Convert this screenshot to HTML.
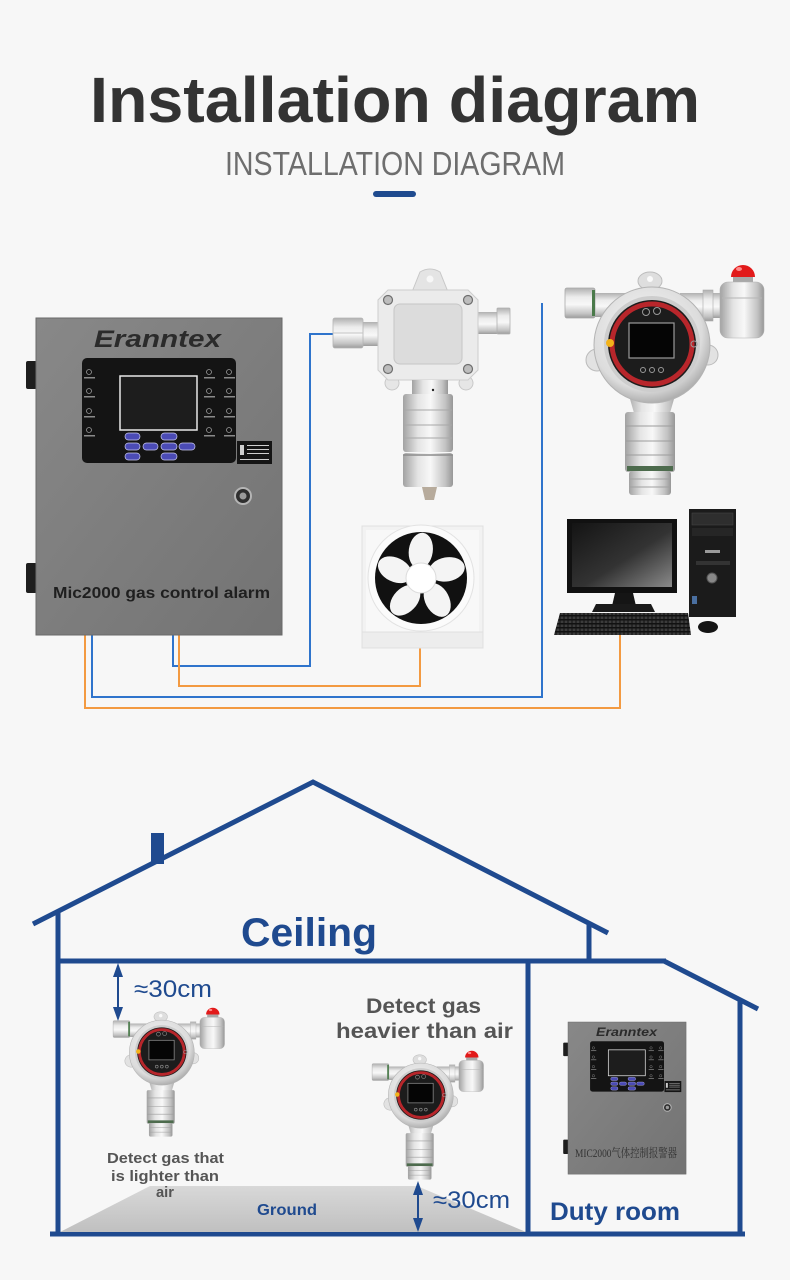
<!DOCTYPE html>
<html><head><meta charset="utf-8"><style>html,body{margin:0;padding:0;background:#f7f7f7}svg{display:block}</style></head>
<body>
<svg width="790" height="1280" viewBox="0 0 790 1280" xmlns="http://www.w3.org/2000/svg" font-family="'Liberation Sans', sans-serif">
<defs>
 <linearGradient id="metalH" x1="0" y1="0" x2="1" y2="0">
  <stop offset="0" stop-color="#a2a2a2"/><stop offset="0.3" stop-color="#e4e4e4"/><stop offset="0.55" stop-color="#f8f8f8"/><stop offset="0.85" stop-color="#c2c2c2"/><stop offset="1" stop-color="#979797"/>
 </linearGradient>
 <linearGradient id="metalV" x1="0" y1="0" x2="0" y2="1">
  <stop offset="0" stop-color="#b0b0b0"/><stop offset="0.3" stop-color="#ececec"/><stop offset="0.55" stop-color="#f8f8f8"/><stop offset="0.85" stop-color="#c4c4c4"/><stop offset="1" stop-color="#9c9c9c"/>
 </linearGradient>
 <radialGradient id="bodyR" cx="0.45" cy="0.4" r="0.6">
  <stop offset="0" stop-color="#f8f8f8"/><stop offset="0.8" stop-color="#dcdcdc"/><stop offset="1" stop-color="#b0b0b0"/>
 </radialGradient>
 <linearGradient id="boxG" x1="0" y1="0" x2="1" y2="1">
  <stop offset="0" stop-color="#888888"/><stop offset="1" stop-color="#737373"/>
 </linearGradient>
 <linearGradient id="scr" x1="0" y1="0" x2="1" y2="1">
  <stop offset="0" stop-color="#141414"/><stop offset="0.55" stop-color="#333"/><stop offset="1" stop-color="#8a8a8a"/>
 </linearGradient>
 <linearGradient id="gnd" x1="0" y1="0" x2="0" y2="1">
  <stop offset="0" stop-color="#d8d8d8"/><stop offset="1" stop-color="#c0c0c0"/>
 </linearGradient>
 <pattern id="keys" width="4" height="4" patternUnits="userSpaceOnUse">
  <rect width="4" height="4" fill="#111"/><rect x="0.5" y="0.5" width="3" height="2.5" fill="#3c3c3c"/>
 </pattern>

 <g id="det2">
  <ellipse cx="650" cy="281" rx="12" ry="9" fill="#dedede" stroke="#bdbdbd"/>
  <circle cx="650" cy="279" r="3" fill="#fafafa"/>
  <rect x="590" y="293" width="40" height="24" fill="url(#metalV)"/>
  <rect x="565" y="288" width="30" height="30" rx="2" fill="url(#metalV)" stroke="#a8a8a8" stroke-width="0.8"/>
  <rect x="592" y="290" width="3" height="26" fill="#4a7a4a"/>
  <rect x="680" y="293" width="44" height="25" fill="url(#metalV)"/>
  <rect x="703" y="290" width="10" height="31" fill="url(#metalV)" stroke="#aaa" stroke-width="0.6"/>
  <rect x="733" y="274" width="20" height="10" fill="#a8a8a8"/>
  <path d="M731,277 a12,12 0 0 1 24,0 z" fill="#e21a1a"/>
  <ellipse cx="739" cy="269" rx="3" ry="2" fill="#ff8a8a"/>
  <rect x="720" y="282" width="44" height="56" rx="8" fill="url(#metalH)" stroke="#b0b0b0" stroke-width="0.6"/>
  <line x1="722" y1="298" x2="762" y2="298" stroke="#b5b5b5"/>
  <circle cx="597" cy="360" r="11" fill="#e2e2e2" stroke="#bbb"/>
  <circle cx="708" cy="355" r="10" fill="#e2e2e2" stroke="#bbb"/>
  <path d="M626,385 L678,385 L668,420 L636,420 Z" fill="url(#metalH)"/>
  <circle cx="652" cy="345" r="58" fill="url(#bodyR)" stroke="#b3b3b3"/>
  <circle cx="652" cy="344" r="48" fill="#cdcdcd"/>
  <circle cx="652" cy="344" r="44" fill="#1c1c1c"/>
  <circle cx="652" cy="344" r="40" fill="none" stroke="#b8262b" stroke-width="5"/>
  <rect x="629" y="323" width="45" height="35" fill="#050505" stroke="#9a9a9a" stroke-width="1.2"/>
  <circle cx="610" cy="343" r="4" fill="#f3b21a"/>
  <circle cx="646" cy="312" r="3.5" fill="none" stroke="#999"/>
  <circle cx="657" cy="311" r="3.5" fill="none" stroke="#999"/>
  <circle cx="694" cy="344" r="3" fill="none" stroke="#999"/>
  <circle cx="643" cy="370" r="2.5" fill="none" stroke="#999"/>
  <circle cx="652" cy="370" r="2.5" fill="none" stroke="#999"/>
  <circle cx="661" cy="370" r="2.5" fill="none" stroke="#999"/>
  <rect x="625" y="412" width="50" height="60" rx="3" fill="url(#metalH)"/>
  <line x1="626" y1="426" x2="674" y2="426" stroke="#9c9c9c"/>
  <line x1="626" y1="441" x2="674" y2="441" stroke="#9c9c9c"/>
  <line x1="626" y1="455" x2="674" y2="455" stroke="#9c9c9c"/>
  <rect x="627" y="466" width="46" height="5" fill="#4d6b4d"/>
  <rect x="629" y="471" width="42" height="24" rx="3" fill="url(#metalH)"/>
  <line x1="630" y1="479" x2="670" y2="479" stroke="#a0a0a0"/>
  <line x1="630" y1="487" x2="670" y2="487" stroke="#a0a0a0"/>
 </g>

 <g id="cbox">
  <rect x="26" y="361" width="11" height="28" rx="2" fill="#1e1e1e"/>
  <rect x="26" y="563" width="11" height="30" rx="2" fill="#1e1e1e"/>
  <rect x="36" y="318" width="246" height="317" fill="url(#boxG)" stroke="#6a6a6a" stroke-width="1"/>
  <rect x="82" y="358" width="154" height="105" rx="5" fill="#141414"/>
  <rect x="120" y="376" width="77" height="54" fill="#1d1d1d" stroke="#e8e8e8" stroke-width="1.5"/>
  <g fill="#4b4bb5" stroke="#c9c9f0" stroke-width="0.7">
   <rect x="125" y="433" width="15" height="7" rx="3.5"/>
   <rect x="161" y="433" width="16" height="7" rx="3.5"/>
   <rect x="125" y="443" width="15" height="7" rx="3.5"/>
   <rect x="143" y="443" width="15" height="7" rx="3.5"/>
   <rect x="161" y="443" width="16" height="7" rx="3.5"/>
   <rect x="179" y="443" width="16" height="7" rx="3.5"/>
   <rect x="125" y="453" width="15" height="7" rx="3.5"/>
   <rect x="161" y="453" width="16" height="7" rx="3.5"/>
  </g>
  <g fill="none" stroke="#9a9a9a" stroke-width="0.8">
   <circle cx="89" cy="372" r="2.5"/><circle cx="89" cy="391" r="2.5"/><circle cx="89" cy="411" r="2.5"/><circle cx="89" cy="430" r="2.5"/>
   <circle cx="209" cy="372" r="2.5"/><circle cx="209" cy="391" r="2.5"/><circle cx="209" cy="411" r="2.5"/><circle cx="209" cy="430" r="2.5"/>
   <circle cx="229" cy="372" r="2.5"/><circle cx="229" cy="391" r="2.5"/><circle cx="229" cy="411" r="2.5"/><circle cx="229" cy="430" r="2.5"/>
  </g>
  <g fill="#8a8a8a">
   <rect x="84" y="377" width="11" height="1.5"/><rect x="84" y="396" width="11" height="1.5"/><rect x="84" y="416" width="11" height="1.5"/><rect x="84" y="435" width="11" height="1.5"/>
   <rect x="204" y="377" width="11" height="1.5"/><rect x="204" y="396" width="11" height="1.5"/><rect x="204" y="416" width="11" height="1.5"/><rect x="204" y="435" width="11" height="1.5"/>
   <rect x="224" y="377" width="11" height="1.5"/><rect x="224" y="396" width="11" height="1.5"/><rect x="224" y="416" width="11" height="1.5"/><rect x="224" y="435" width="11" height="1.5"/>
  </g>
  <rect x="237" y="441" width="35" height="23" fill="#151515"/>
  <g fill="#cfcfcf">
   <rect x="247" y="445" width="22" height="1"/><rect x="247" y="449" width="22" height="1"/><rect x="247" y="453" width="22" height="1"/><rect x="240" y="459" width="29" height="1"/>
   <rect x="240" y="445" width="4" height="10"/>
  </g>
  <circle cx="243" cy="496" r="8" fill="#2e2e2e" stroke="#b5b5b5" stroke-width="2"/>
  <circle cx="243" cy="496" r="3.5" fill="#9a9a9a"/>
 </g>
</defs>

<rect width="790" height="1280" fill="#f7f7f7"/>

<!-- Title -->
<text x="90" y="122" font-size="64" font-weight="bold" fill="#333333" textLength="610" lengthAdjust="spacingAndGlyphs">Installation diagram</text>
<text x="225" y="175" font-size="33" fill="#6e6e6e" textLength="340" lengthAdjust="spacingAndGlyphs">INSTALLATION DIAGRAM</text>
<rect x="373" y="191" width="43" height="6" rx="3" fill="#1f4b8f"/>

<!-- Wires -->
<g fill="none" stroke-width="2" stroke-linejoin="miter">
 <polyline points="92,634 92,697 542,697 542,303" stroke="#2f74cc"/>
 <polyline points="173,634 173,666 310,666 310,334 334,334" stroke="#2f74cc"/>
 <polyline points="85,634 85,708 620,708 620,634" stroke="#f39a41"/>
 <polyline points="179,634 179,686 420,686 420,646" stroke="#f39a41"/>
</g>

<!-- Control box -->
<use href="#cbox"/>
<text x="94" y="347" font-size="24" font-weight="bold" font-style="italic" fill="#2b2b2b" textLength="127" lengthAdjust="spacingAndGlyphs">Eranntex</text>
<text x="53" y="598" font-size="16" font-weight="bold" fill="#1f1f1f" textLength="217" lengthAdjust="spacingAndGlyphs">Mic2000 gas control alarm</text>

<!-- Detector 1 -->
<g>
 <path d="M412,292 L420,272 Q430,266 440,272 L448,292 Z" fill="#e4e4e4" stroke="#c8c8c8"/>
 <circle cx="430" cy="279" r="3.5" fill="#f7f7f7"/>
 <rect x="360" y="322" width="22" height="24" fill="url(#metalV)"/>
 <rect x="333" y="318" width="30" height="30" rx="2" fill="url(#metalV)" stroke="#b5b5b5" stroke-width="0.8"/>
 <line x1="333" y1="333" x2="363" y2="333" stroke="#c4c4c4"/>
 <rect x="474" y="312" width="26" height="22" fill="url(#metalV)"/>
 <rect x="497" y="308" width="13" height="26" rx="1" fill="url(#metalV)" stroke="#b0b0b0" stroke-width="0.8"/>
 <circle cx="392" cy="383" r="7" fill="#e6e6e6" stroke="#c8c8c8"/>
 <circle cx="466" cy="383" r="7" fill="#e6e6e6" stroke="#c8c8c8"/>
 <path d="M388,290 L468,290 L478,300 L478,370 L468,380 L388,380 L378,370 L378,300 Z" fill="#ebebeb" stroke="#cdcdcd"/>
 <rect x="394" y="304" width="68" height="60" rx="6" fill="#dcdcdc" stroke="#c6c6c6"/>
 <g fill="#bdbdbd" stroke="#6e6e6e" stroke-width="1.2">
  <circle cx="388" cy="300" r="4.5"/><circle cx="468" cy="300" r="4.5"/><circle cx="388" cy="369" r="4.5"/><circle cx="468" cy="369" r="4.5"/>
 </g>
 <rect x="412" y="380" width="36" height="16" fill="url(#metalH)"/>
 <circle cx="433" cy="390" r="1.2" fill="#222"/>
 <rect x="403" y="394" width="50" height="58" rx="3" fill="url(#metalH)"/>
 <line x1="404" y1="410" x2="452" y2="410" stroke="#a8a8a8"/>
 <line x1="404" y1="425" x2="452" y2="425" stroke="#a8a8a8"/>
 <line x1="404" y1="438" x2="452" y2="438" stroke="#a8a8a8"/>
 <rect x="403" y="453" width="50" height="34" rx="3" fill="url(#metalH)"/>
 <line x1="403" y1="455" x2="453" y2="455" stroke="#8c8c8c" stroke-width="1.5"/>
 <path d="M422,487 L437,487 L434,500 L425,500 Z" fill="#b7ab9c"/>
</g>

<!-- Detector 2 big -->
<use href="#det2"/>

<!-- Fan -->
<g>
 <rect x="362" y="526" width="121" height="122" fill="#f2f2f2" stroke="#e0e0e0"/>
 <rect x="366" y="530" width="113" height="102" fill="#f8f8f8"/>
 <rect x="362" y="632" width="121" height="16" fill="#ededed" stroke="#e0e0e0"/>
 <circle cx="421" cy="578" r="53" fill="#fbfbfb" stroke="#e2e2e2"/>
 <circle cx="421" cy="578" r="46" fill="#111"/>
 <g transform="translate(421,578)" fill="#f4f4f4">
  <ellipse cx="27" cy="-4" rx="18" ry="12" transform="rotate(-10)"/>
  <ellipse cx="27" cy="-4" rx="18" ry="12" transform="rotate(62)"/>
  <ellipse cx="27" cy="-4" rx="18" ry="12" transform="rotate(134)"/>
  <ellipse cx="27" cy="-4" rx="18" ry="12" transform="rotate(206)"/>
  <ellipse cx="27" cy="-4" rx="18" ry="12" transform="rotate(278)"/>
  <circle r="15" fill="#ffffff" stroke="#dcdcdc"/>
 </g>
</g>

<!-- Computer -->
<g>
 <rect x="567" y="519" width="110" height="74" fill="#111"/>
 <rect x="572" y="523" width="100" height="64" fill="url(#scr)"/>
 <path d="M615,593 L633,593 L636,606 L612,606 Z" fill="#151515"/>
 <path d="M596,604 L651,604 L655,612 L592,612 Z" fill="#1a1a1a"/>
 <rect x="689" y="509" width="47" height="108" fill="#1b1b1b"/>
 <rect x="692" y="513" width="41" height="12" fill="#2e2e2e" stroke="#444" stroke-width="0.6"/>
 <rect x="692" y="528" width="41" height="8" fill="#262626"/>
 <rect x="705" y="550" width="15" height="3" fill="#9a9a9a"/>
 <rect x="696" y="561" width="34" height="4" fill="#333"/>
 <circle cx="712" cy="578" r="5" fill="#888" stroke="#555"/>
 <rect x="692" y="596" width="5" height="8" fill="#4a6fa0"/>
 <path d="M560,613 L688,613 L691,635 L554,635 Z" fill="url(#keys)"/>
 <ellipse cx="708" cy="627" rx="10" ry="6" fill="#141414"/>
</g>

<!-- House -->
<g fill="none" stroke="#1f4a8f" stroke-width="5" stroke-linecap="butt">
 <polyline points="33,924 313,782 608,933"/>
 <line x1="58" y1="911" x2="58" y2="1236"/>
 <line x1="589" y1="922" x2="589" y2="963"/>
 <line x1="56" y1="961" x2="666" y2="961"/>
 <line x1="664" y1="961" x2="758" y2="1009"/>
 <line x1="740" y1="999" x2="740" y2="1236"/>
 <line x1="528" y1="961" x2="528" y2="1234"/>
 <line x1="50" y1="1234" x2="745" y2="1234"/>
</g>
<rect x="151" y="833" width="13" height="31" fill="#1f4a8f"/>
<text x="241" y="946" font-size="40" font-weight="bold" fill="#1f4a8f" textLength="136" lengthAdjust="spacingAndGlyphs">Ceiling</text>

<!-- Ground -->
<polygon points="60,1232 150,1186 417,1186 526,1232" fill="url(#gnd)"/>
<text x="257" y="1215" font-size="16" font-weight="bold" fill="#1f4a8f" textLength="60" lengthAdjust="spacingAndGlyphs">Ground</text>

<!-- Arrows -->
<g stroke="#1f4a8f" stroke-width="2">
 <line x1="118" y1="970" x2="118" y2="1013"/>
 <line x1="418" y1="1188" x2="418" y2="1225"/>
</g>
<g fill="#1f4a8f">
 <polygon points="118,963 113,977 123,977"/>
 <polygon points="118,1021 113,1007 123,1007"/>
 <polygon points="418,1181 413,1195 423,1195"/>
 <polygon points="418,1232 413,1218 423,1218"/>
</g>
<text x="134" y="997" font-size="24" fill="#1f4a8f" textLength="78" lengthAdjust="spacingAndGlyphs">≈30cm</text>
<text x="433" y="1208" font-size="24" fill="#1f4a8f" textLength="77" lengthAdjust="spacingAndGlyphs">≈30cm</text>

<!-- Small detectors -->
<use href="#det2" transform="translate(-203.3,859.4) scale(0.56)"/>
<use href="#det2" transform="translate(55.7,902.4) scale(0.56)"/>

<text x="366" y="1013" font-size="21" font-weight="bold" fill="#555" textLength="115" lengthAdjust="spacingAndGlyphs">Detect gas</text>
<text x="336" y="1038" font-size="21" font-weight="bold" fill="#555" textLength="177" lengthAdjust="spacingAndGlyphs">heavier than air</text>

<text x="107" y="1163" font-size="15" font-weight="bold" fill="#555" textLength="117" lengthAdjust="spacingAndGlyphs">Detect gas that</text>
<text x="111" y="1181" font-size="15" font-weight="bold" fill="#555" textLength="108" lengthAdjust="spacingAndGlyphs">is lighter than</text>
<text x="156" y="1197" font-size="15" font-weight="bold" fill="#555" textLength="18" lengthAdjust="spacingAndGlyphs">air</text>

<!-- Duty room box -->
<use href="#cbox" transform="translate(550.72,869.36) scale(0.48)"/>
<text x="596" y="1036" font-size="11.5" font-weight="bold" font-style="italic" fill="#2b2b2b" textLength="61" lengthAdjust="spacingAndGlyphs">Eranntex</text>
<text x="575" y="1157" font-size="12" fill="#333" font-family="'Liberation Serif','Noto Serif CJK SC',serif" textLength="102" lengthAdjust="spacingAndGlyphs">MIC2000气体控制报警器</text>
<text x="550" y="1220" font-size="25" font-weight="bold" fill="#1f4a8f" textLength="130" lengthAdjust="spacingAndGlyphs">Duty room</text>
</svg>
</body></html>
